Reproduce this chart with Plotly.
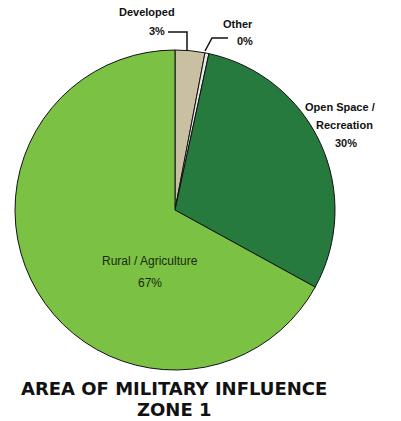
import plotly.graph_objects as go

W, H = 401, 421
labels = ["Developed", "Other", "Open Space / Recreation", "Rural / Agriculture"]
values = [3.0, 0.4, 29.6, 67.0]
pct_text = ["3%", "0%", "30%", "67%"]
colors = ["#C9C0A2", "#E8E8E8", "#277A3E", "#7BC143"]

def px(x):
    return x / W

def py(y):
    return 1 - y / H

fig = go.Figure(go.Pie(
    labels=labels, values=values, sort=False, direction="clockwise", rotation=0,
    marker=dict(colors=colors, line=dict(color="#111111", width=1)),
    textinfo="none", hoverinfo="label+percent", showlegend=False,
    domain=dict(x=[px(15), px(335)], y=[py(370), py(50)]),
))

ann = []
def t(x, y, s, size=11, bold=True, color="#111111", family="Liberation Sans, Arial"):
    ann.append(dict(x=px(x), y=py(y), xref="paper", yref="paper", text=f"<b>{s}</b>" if bold else s,
                    showarrow=False, font=dict(size=size, color=color, family=family),
                    xanchor="center", yanchor="middle"))

t(147, 12, "Developed")
t(157, 31, pct_text[0])
t(238, 24, "Other")
t(245, 41, pct_text[1])
t(340, 107, "Open Space /")
t(344, 125, "Recreation")
t(346, 143, pct_text[2])
t(150, 261, "Rural / Agriculture", size=12, bold=False, color="#1a2a10")
t(150, 283, pct_text[3], size=12, bold=False, color="#1a2a10")
t(174, 388, "AREA OF MILITARY INFLUENCE", size=18, family="DejaVu Sans")
t(174, 409, "ZONE 1", size=18, family="DejaVu Sans")

shapes = [
    dict(type="path", xref="paper", yref="paper",
         path=f"M {px(168)},{py(32)} L {px(187)},{py(32)} L {px(187)},{py(51)}",
         line=dict(color="#111111", width=1.5)),
    dict(type="path", xref="paper", yref="paper",
         path=f"M {px(228)},{py(38)} L {px(212)},{py(38)} L {px(205)},{py(51)}",
         line=dict(color="#111111", width=1.5)),
]

fig.update_layout(width=W, height=H, margin=dict(l=0, r=0, t=0, b=0),
                  paper_bgcolor="white", plot_bgcolor="white",
                  annotations=ann, shapes=shapes)
fig.write_html("out.html")
